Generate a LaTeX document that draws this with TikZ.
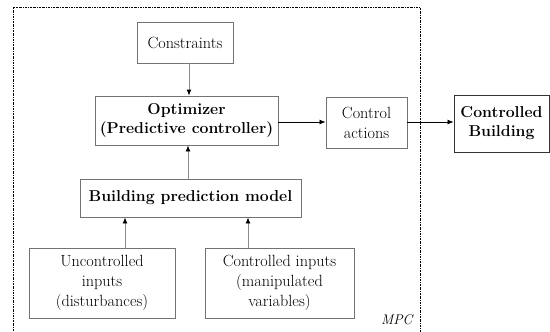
\documentclass[tikz,border=0pt]{standalone}
\usetikzlibrary{arrows.meta}
\begin{document}
\begin{tikzpicture}[x=1pt,y=-1pt,
  box/.style={draw=black!55,line width=0.9pt,inner sep=0pt,align=center,font=\fontsize{16.2}{20}\selectfont},
  bbox/.style={box,font=\fontsize{15.8}{19}\selectfont\bfseries},
  con/.style={line width=0.7pt,-{Latex[length=6pt,width=5pt,color=black]}},
  gcon/.style={con,line width=0.9pt,draw=black!45}]
\useasboundingbox (0,0) rectangle (550,332);
\draw[line width=0.45pt,dash pattern=on 2pt off 1pt on 0.6pt off 1pt] (13,340) -- (13,7) -- (420,7) -- (420,340);
\node[box,minimum width=96pt,minimum height=41pt] (cons) at (185,42.5) {Constraints};
\node[bbox,minimum width=183pt,minimum height=49pt] (opt) at (186.5,120.5) {Optimizer\\(Predictive controller)};
\node[box,minimum width=81pt,minimum height=51pt] (act) at (366.5,122.5) {Control\\actions};
\node[bbox,draw=black!80,minimum width=95pt,minimum height=57pt] (bld) at (501.5,123.5) {Controlled\\Building};
\node[bbox,minimum width=221pt,minimum height=38pt] (bpm) at (190.5,198) {Building prediction model};
\node[box,minimum width=146pt,minimum height=70pt] (unc) at (102,283) {Uncontrolled\\inputs\\(disturbances)};
\node[box,minimum width=149pt,minimum height=70pt] (ci) at (279.5,283) {Controlled inputs\\(manipulated\\variables)};
\node[font=\fontsize{14}{16}\selectfont\itshape,anchor=east] (mpc) at (416,320) {MPC};
\draw[gcon] (cons.south -| 189,0) -- (opt.north -| 189,0);
\draw[gcon] (bpm.north -| 188,0) -- (opt.south -| 188,0);
\draw[gcon] (unc.north -| 125,0) -- (bpm.south -| 125,0);
\draw[gcon] (ci.north -| 248,0) -- (bpm.south -| 248,0);
\draw[con] (opt.east |- 0,122) -- (act.west |- 0,122);
\draw[con] (act.east |- 0,122) -- (bld.west |- 0,122);
\end{tikzpicture}
\end{document}
